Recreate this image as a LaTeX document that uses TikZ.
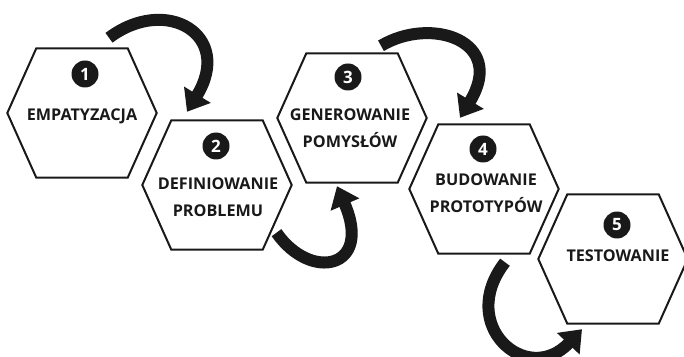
\documentclass[tikz,border=0pt]{standalone}
\usepackage{fontspec}
\setmainfont{Open Sans}
\usepackage{tikz}
\usetikzlibrary{arrows.meta}

\begin{document}
\begin{tikzpicture}[x=1pt, y=1pt,
			stage/.style={
				rectangle,
				minimum width = 149pt,
				minimum height = 129pt,
				inner sep = 0pt},
			hexside/.style={
				line width = 2pt,
				color = black!90},
			num/.style={
				circle,
				minimum size = 27pt,
				inner sep = 0pt,
				fill = black!90,
				text = white,
				font = \fontsize{17}{17}\selectfont\bfseries},
			caption/.style={
				align = center,
				inner sep = 0pt,
				color = black!90,
				font = \fontsize{16.2}{27}\selectfont\bfseries},
			flow/.style={
				line width = 12pt,
				color = black!90,
				-{Triangle[length=20pt, width=30pt]}}]
	\useasboundingbox (0, 0) rectangle (684, 356);
	\foreach \n/\x/\y/\a/\b in {1/82/243/85/282, 2/217/171/216/210, 3/352/238/348/279, 4/484/167/483/207, 5/613/97/617/131}
	{
		\node[stage] (h\n) at (\x, \y) {};
		\draw[hexside] (h\n.west) -- ([xshift=29pt]h\n.north west) -- ([xshift=-29pt]h\n.north east)
			-- (h\n.east) -- ([xshift=-29pt]h\n.south east) -- ([xshift=29pt]h\n.south west) -- cycle;
		\node[num] (n\n) at (\a, \b) {\n};
	}
	\node[caption] (t1) at (82, 240) {EMPATYZACJA};
	\node[caption] (t2) at (218, 159) {DEFINIOWANIE\\PROBLEMU};
	\node[caption] (t3) at (350, 228) {GENEROWANIE\\POMYSŁÓW};
	\node[caption] (t4) at (486, 163) {BUDOWANIE\\PROTOTYPÓW};
	\node[caption] (t5) at (618, 100) {TESTOWANIE};
	\draw[flow] ([shift={(27,10.5)}]h1.north) .. controls +(57,43) and +(47,77) .. ([shift={(-30,8.5)}]h2.north);
	\draw[flow] ([shift={(59.5,17)}]h2.south) .. controls +(34,-49) and +(36,-83) .. ([shift={(-15,-3.5)}]h3.south);
	\draw[flow] ([shift={(29,7.5)}]h3.north) .. controls +(50,30) and +(47,77) .. ([shift={(-24,6.5)}]h4.north);
	\draw[flow] ([shift={(21,-8.5)}]h4.south) .. controls +(-49,-63) and +(-55,-58) .. ([shift={(-31,-5.5)}]h5.south);
\end{tikzpicture}
\end{document}
